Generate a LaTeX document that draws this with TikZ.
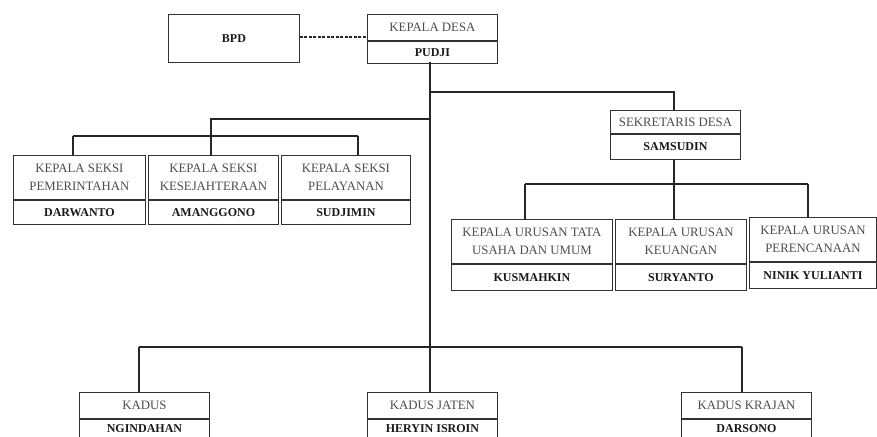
\documentclass[tikz,border=0pt]{standalone}
\usepackage{fontspec}
\setmainfont{Liberation Serif}
\begin{document}
\begin{tikzpicture}[x=1pt,y=-1pt,
  box/.style={draw=black!80, line width=0.9pt, inner sep=0pt, align=center},
  ttl/.style={box, text=black!70, font=\fontsize{12.8}{17.5}\selectfont},
  nm/.style={box, text=black!90, font=\fontsize{12}{17}\selectfont\bfseries},
  link/.style={draw=black!85, line width=1.2pt},
  dotlink/.style={draw=black!85, line width=1.2pt, dash pattern=on 3pt off 1.5pt}]
\path[use as bounding box, clip] (0,0) rectangle (877,436);

% Kepala desa and BPD
\node[nm, minimum width=131, minimum height=48, anchor=north west] (bpd) at (168,14) {BPD};
\node[ttl, minimum width=130, minimum height=26, anchor=north west] (kd) at (367,14) {KEPALA DESA};
\node[nm, minimum width=130, minimum height=22, anchor=north] (kdn) at (kd.south) {PUDJI};

% Sekretaris desa
\node[ttl, minimum width=130, minimum height=23, anchor=north west] (sek) at (610,110) {SEKRETARIS DESA};
\node[nm, minimum width=130, minimum height=25, anchor=north] (sekn) at (sek.south) {SAMSUDIN};

% Kepala seksi
\node[ttl, minimum width=132, minimum height=44, anchor=north west] (s1) at (13,155) {KEPALA SEKSI\\PEMERINTAHAN};
\node[nm, minimum width=132, minimum height=24, anchor=north] (s1n) at (s1.south) {DARWANTO};
\node[ttl, minimum width=130, minimum height=44, anchor=north west] (s2) at (148,155) {KEPALA SEKSI\\KESEJAHTERAAN};
\node[nm, minimum width=130, minimum height=24, anchor=north] (s2n) at (s2.south) {AMANGGONO};
\node[ttl, minimum width=129, minimum height=44, anchor=north west] (s3) at (281,155) {KEPALA SEKSI\\PELAYANAN};
\node[nm, minimum width=129, minimum height=24, anchor=north] (s3n) at (s3.south) {SUDJIMIN};

% Kepala urusan
\node[ttl, minimum width=161, minimum height=44, anchor=north west] (u1) at (451,219) {KEPALA URUSAN TATA\\USAHA DAN UMUM};
\node[nm, minimum width=161, minimum height=26, anchor=north] (u1n) at (u1.south) {KUSMAHKIN};
\node[ttl, minimum width=131, minimum height=44, anchor=north west] (u2) at (615,219) {KEPALA URUSAN\\KEUANGAN};
\node[nm, minimum width=131, minimum height=26, anchor=north] (u2n) at (u2.south) {SURYANTO};
\node[ttl, minimum width=127, minimum height=44, anchor=north west] (u3) at (749,217) {KEPALA URUSAN\\PERENCANAAN};
\node[nm, minimum width=127, minimum height=26, anchor=north] (u3n) at (u3.south) {NINIK YULIANTI};

% Kepala dusun (lower edge runs off the page)
\node[ttl, minimum width=130, minimum height=26, anchor=north west] (k1) at (79,392) {KADUS};
\node[nm, minimum width=130, minimum height=19, anchor=north] (k1n) at (k1.south) {NGINDAHAN};
\node[ttl, minimum width=130, minimum height=26, anchor=north west] (k2) at (367,392) {KADUS JATEN};
\node[nm, minimum width=130, minimum height=19, anchor=north] (k2n) at (k2.south) {HERYIN ISROIN};
\node[ttl, minimum width=130, minimum height=26, anchor=north west] (k3) at (681,392) {KADUS KRAJAN};
\node[nm, minimum width=130, minimum height=19, anchor=north] (k3n) at (k3.south) {DARSONO};

% Junction points
\coordinate (top) at (430,62);
\coordinate (jsek) at (430,92);
\coordinate (jseksi) at (430,119);
\coordinate (jkadus) at (430,347);
\coordinate (jur) at (674,184);
\coordinate (jur1) at (525,184);
\coordinate (jur3) at (808,184);
\coordinate (js1) at (73,136);
\coordinate (js2) at (211,136);
\coordinate (js3) at (358,136);
\coordinate (jk1) at (139,347);
\coordinate (jk3) at (742,347);

% Coordination with BPD
\path[dotlink] (bpd.east |- 0,37) -- (kd.west |- 0,37);

% Main spine
\path[link] (top) -- (jkadus);

% Sekretaris branch
\path[link] (jsek) -- (jsek -| jur) -- (jur |- sek.north);
\path[link] (jur |- sekn.south) -- (jur);
\path[link] (jur1) -- (jur3);
\path[link] (jur1) -- (jur1 |- u1.north);
\path[link] (jur) -- (jur |- u2.north);
\path[link] (jur3) -- (jur3 |- u3.north);

% Seksi branch
\path[link] (jseksi) -- (jseksi -| js2) -- (js2 |- s2.north);
\path[link] (js1) -- (js3);
\path[link] (js1) -- (js1 |- s1.north);
\path[link] (js3) -- (js3 |- s3.north);

% Kadus branch
\path[link] (jk1) -- (jk3);
\path[link] (jk1) -- (jk1 |- k1.north);
\path[link] (jkadus) -- (jkadus |- k2.north);
\path[link] (jk3) -- (jk3 |- k3.north);
\end{tikzpicture}
\end{document}
